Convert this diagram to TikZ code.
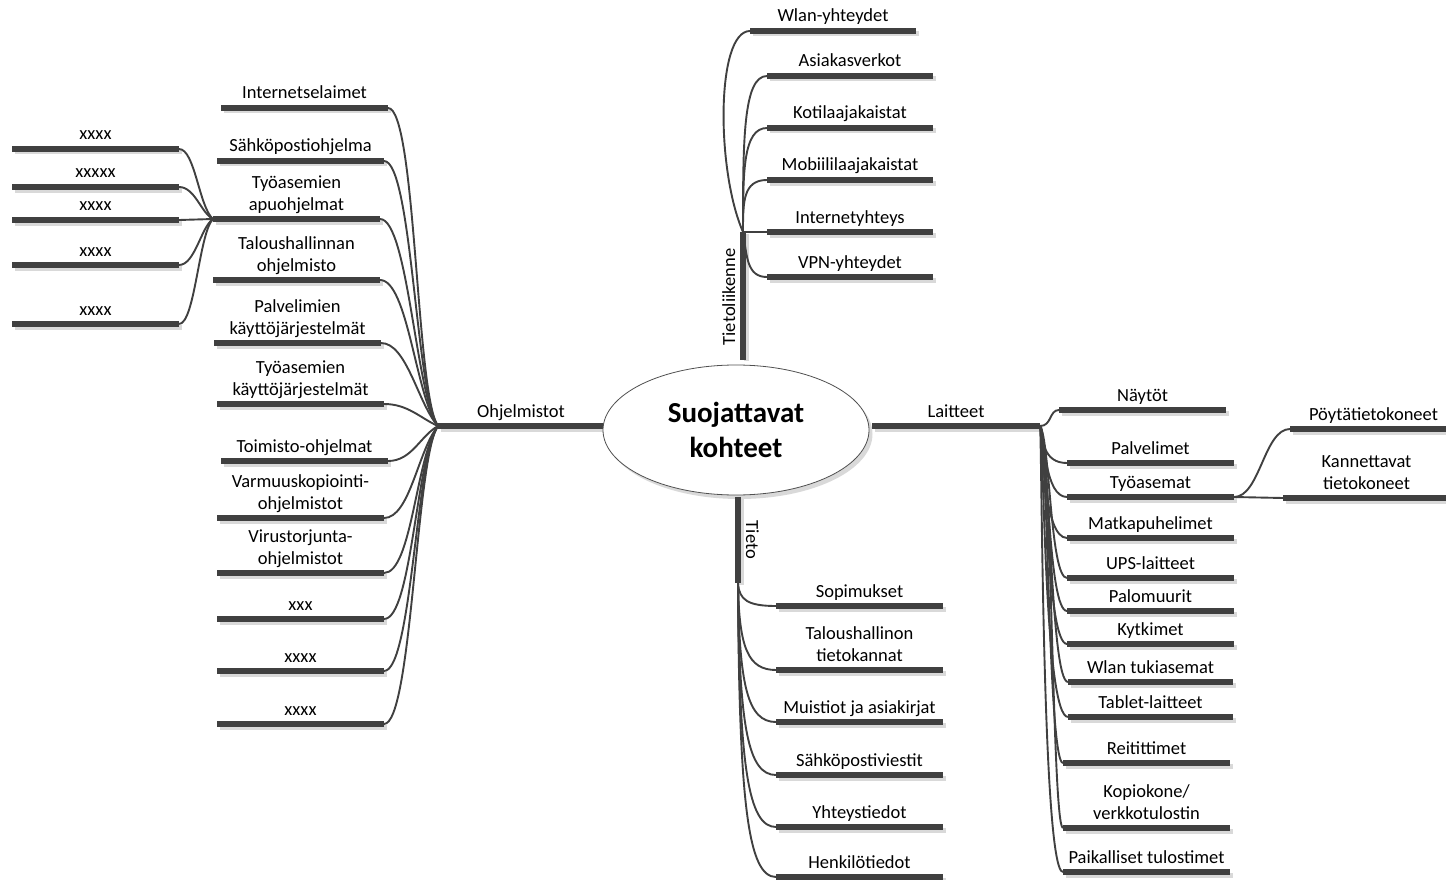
\documentclass[tikz,border=0pt]{standalone}
\usepackage{fontspec}
\setmainfont{Carlito}
\usetikzlibrary{shapes.geometric}
\definecolor{barcol}{HTML}{404040}
\definecolor{shadecol}{HTML}{D9D9D9}
\definecolor{linecol}{HTML}{404040}
\definecolor{rimcol}{HTML}{505050}
\pgfdeclarelayer{shade}
\pgfdeclarelayer{links}
\pgfsetlayers{shade,links,main}
\tikzset{
  barline/.style={draw=barcol, line width=5.5pt},
  barshade/.style={draw=shadecol, line width=5pt},
  conn/.style={draw=linecol, line width=1.9pt},
  lbl/.style={anchor=base, inner sep=0pt, font=\fontsize{18.5}{22}\selectfont},
  rootnode/.style={ellipse, draw=rimcol, line width=0.8pt, fill=white,
    minimum width=266pt, minimum height=130pt, inner sep=0pt, align=center,
    font=\fontsize{29}{35}\selectfont\bfseries},
}
% multi-line label whose last line sits on the base line
\newcommand\ml[1]{\begin{tabular}[b]{@{}c@{}}#1\end{tabular}}
% horizontal topic bar: name, left x, right x, y, label
\newcommand\hbr[5]{%
  \begin{pgfonlayer}{shade}\draw[barshade] (#2+3,#4+3) -- (#3+3,#4+3);\end{pgfonlayer}
  \draw[barline] (#2,#4) coordinate (#1w) -- (#3,#4) coordinate (#1e);
  \node[lbl] (#1) at ({(#2+#3)/2},#4-9) {\ml{#5}};}
\begin{document}
\begin{tikzpicture}[x=1pt,y=-1pt]
\useasboundingbox (0,0) rectangle (1446,880);

% ---- main branches
\hbr{oh}{438}{604}{426}{Ohjelmistot}
\hbr{la}{872}{1040}{426}{Laitteet}

\begin{pgfonlayer}{shade}
  \draw[barshade] (746,234) -- (746,361);
  \draw[barshade] (741,499) -- (741,585);
\end{pgfonlayer}
\draw[barline] (743,232) coordinate (tihub) -- (743,360) coordinate (tiend);
\node[lbl, rotate=90] (tili) at (735,297) {Tietoliikenne};
\draw[barline] (738,497) coordinate (tetop) -- (738,583) coordinate (tehub);
\node[lbl, rotate=-90] (teto) at (746,540) {Tieto};

% ---- Ohjelmistot
\hbr{o1}{221}{388}{108}{Internetselaimet}
\hbr{o2}{217}{384}{161}{Sähköpostiohjelma}
\hbr{o3}{213}{380}{219}{Työasemien\\apuohjelmat}
\hbr{o4}{213}{380}{280}{Taloushallinnan\\ohjelmisto}
\hbr{o5}{214}{381}{343}{Palvelimien\\käyttöjärjestelmät}
\hbr{o6}{217}{384}{404}{Työasemien\\käyttöjärjestelmät}
\hbr{o7}{221}{388}{461}{Toimisto-ohjelmat}
\hbr{o8}{217}{384}{518}{Varmuuskopiointi-\\ohjelmistot}
\hbr{o9}{217}{384}{573}{Virustorjunta-\\ohjelmistot}
\hbr{o10}{217}{384}{619}{xxx}
\hbr{o11}{217}{384}{671}{xxxx}
\hbr{o12}{217}{384}{724}{xxxx}

% ---- sub-branches of Työasemien apuohjelmat
\hbr{x1}{12}{179}{149}{xxxx}
\hbr{x2}{12}{179}{187}{xxxxx}
\hbr{x3}{12}{179}{220}{xxxx}
\hbr{x4}{12}{179}{265}{xxxx}
\hbr{x5}{12}{179}{324}{xxxx}

% ---- Tietoliikenne
\hbr{t1}{750}{916}{31}{Wlan-yhteydet}
\hbr{t2}{767}{933}{76}{Asiakasverkot}
\hbr{t3}{767}{933}{128}{Kotilaajakaistat}
\hbr{t4}{767}{933}{180}{Mobiililaajakaistat}
\hbr{t5}{767}{933}{232}{Internetyhteys}
\hbr{t6}{767}{933}{277}{VPN-yhteydet}

% ---- Tieto
\hbr{d1}{776}{943}{606}{Sopimukset}
\hbr{d2}{776}{943}{670}{Taloushallinon\\tietokannat}
\hbr{d3}{776}{943}{722}{Muistiot ja asiakirjat}
\hbr{d4}{776}{943}{775}{Sähköpostiviestit}
\hbr{d5}{776}{943}{827}{Yhteystiedot}
\hbr{d6}{776}{943}{877}{Henkilötiedot}

% ---- Laitteet
\hbr{l1}{1059}{1226}{410}{Näytöt}
\hbr{l2}{1067}{1234}{463}{Palvelimet}
\hbr{l3}{1067}{1234}{497}{Työasemat}
\hbr{l4}{1067}{1234}{538}{Matkapuhelimet}
\hbr{l5}{1067}{1234}{578}{UPS-laitteet}
\hbr{l6}{1067}{1234}{611}{Palomuurit}
\hbr{l7}{1067}{1234}{644}{Kytkimet}
\hbr{l8}{1068}{1233}{682}{Wlan tukiasemat}
\hbr{l9}{1068}{1233}{717}{Tablet-laitteet}
\hbr{l10}{1063}{1230}{763}{Reitittimet}
\hbr{l11}{1063}{1230}{828}{Kopiokone/\\verkkotulostin}
\hbr{l12}{1063}{1230}{872}{Paikalliset tulostimet}

% ---- sub-branches of Työasemat
\hbr{w1}{1290}{1457}{429}{Pöytätietokoneet}
\hbr{w2}{1283}{1450}{498}{Kannettavat\\tietokoneet}

% ---- central topic
\begin{pgfonlayer}{shade}
  \fill[shadecol] (739.5,434) ellipse [x radius=133, y radius=65];
\end{pgfonlayer}
\node[rootnode] (root) at (736,430) {Suojattavat\\kohteet};

% ---- connectors
\begin{pgfonlayer}{links}
  % Ohjelmistot
  \draw[conn] (o1e) .. controls +(28,0) and +(-22,-30) .. (ohw);
  \draw[conn] (o2e) .. controls +(28,0) and +(-22,-30) .. (ohw);
  \draw[conn] (o3e) .. controls +(28,0) and +(-22,-30) .. (ohw);
  \draw[conn] (o4e) .. controls +(28,0) and +(-22,-28) .. (ohw);
  \draw[conn] (o5e) .. controls +(26,0) and +(-20,-22) .. (ohw);
  \draw[conn] (o6e) .. controls +(24,0) and +(-18,-8) .. (ohw);
  \draw[conn] (o7e) .. controls +(24,0) and +(-18,10) .. (ohw);
  \draw[conn] (o8e) .. controls +(26,0) and +(-20,24) .. (ohw);
  \draw[conn] (o9e) .. controls +(28,0) and +(-22,30) .. (ohw);
  \draw[conn] (o10e) .. controls +(28,0) and +(-22,30) .. (ohw);
  \draw[conn] (o11e) .. controls +(28,0) and +(-22,30) .. (ohw);
  \draw[conn] (o12e) .. controls +(28,0) and +(-22,30) .. (ohw);
  % Työasemien apuohjelmat
  \draw[conn] (x1e) .. controls +(16,0) and +(-14,-12) .. (o3w);
  \draw[conn] (x2e) .. controls +(16,0) and +(-12,-6) .. (o3w);
  \draw[conn] (x3e) -- (o3w);
  \draw[conn] (x4e) .. controls +(16,0) and +(-12,8) .. (o3w);
  \draw[conn] (x5e) .. controls +(16,0) and +(-14,14) .. (o3w);
  % Tietoliikenne
  \draw[conn] (t1w) .. controls (716,31) and (716,170) .. (tihub);
  \draw[conn] (t2w) .. controls +(-24,0) and +(0,-90) .. (tihub);
  \draw[conn] (t3w) .. controls +(-24,0) and +(0,-60) .. (tihub);
  \draw[conn] (t4w) .. controls +(-24,0) and +(0,-30) .. (tihub);
  \draw[conn] (tihub) -- (t5w);
  \draw[conn] (t6w) .. controls +(-20,0) and +(4,25) .. (tihub);
  % Tieto
  \draw[conn] (tehub) .. controls (739,600) and +(-28,0) .. (d1w);
  \draw[conn] (tehub) .. controls (739,648) and +(-28,0) .. (d2w);
  \draw[conn] (tehub) .. controls (739,687) and +(-28,0) .. (d3w);
  \draw[conn] (tehub) .. controls (739,727) and +(-28,0) .. (d4w);
  \draw[conn] (tehub) .. controls (739,766) and +(-28,0) .. (d5w);
  \draw[conn] (tehub) .. controls (739,803) and +(-28,0) .. (d6w);
  % Laitteet
  \draw[conn] (lae) .. controls +(12,0) and +(-10,0) .. (l1w);
  \draw[conn] (lae) .. controls (1043,440) and (1043,463) .. (l2w);
  \draw[conn] (lae) .. controls (1045,440) and (1045,497) .. (l3w);
  \draw[conn] (lae) .. controls (1043,440) and (1043,538) .. (l4w);
  \draw[conn] (lae) .. controls (1050,440) and (1050,578) .. (l5w);
  \draw[conn] (lae) .. controls (1048,440) and (1048,611) .. (l6w);
  \draw[conn] (lae) .. controls (1046,440) and (1046,644) .. (l7w);
  \draw[conn] (lae) .. controls (1050,440) and (1050,682) .. (l8w);
  \draw[conn] (lae) .. controls (1044,440) and (1044,717) .. (l9w);
  \draw[conn] (lae) .. controls (1048,440) and (1048,763) .. (l10w);
  \draw[conn] (lae) .. controls (1052,440) and (1052,828) .. (l11w);
  \draw[conn] (lae) .. controls (1042,440) and (1042,872) .. (l12w);
  % Työasemat
  \draw[conn] (l3e) .. controls +(26,0) and +(-26,0) .. (w1w);
  \draw[conn] (l3e) -- (w2w);
\end{pgfonlayer}
\end{tikzpicture}
\end{document}
